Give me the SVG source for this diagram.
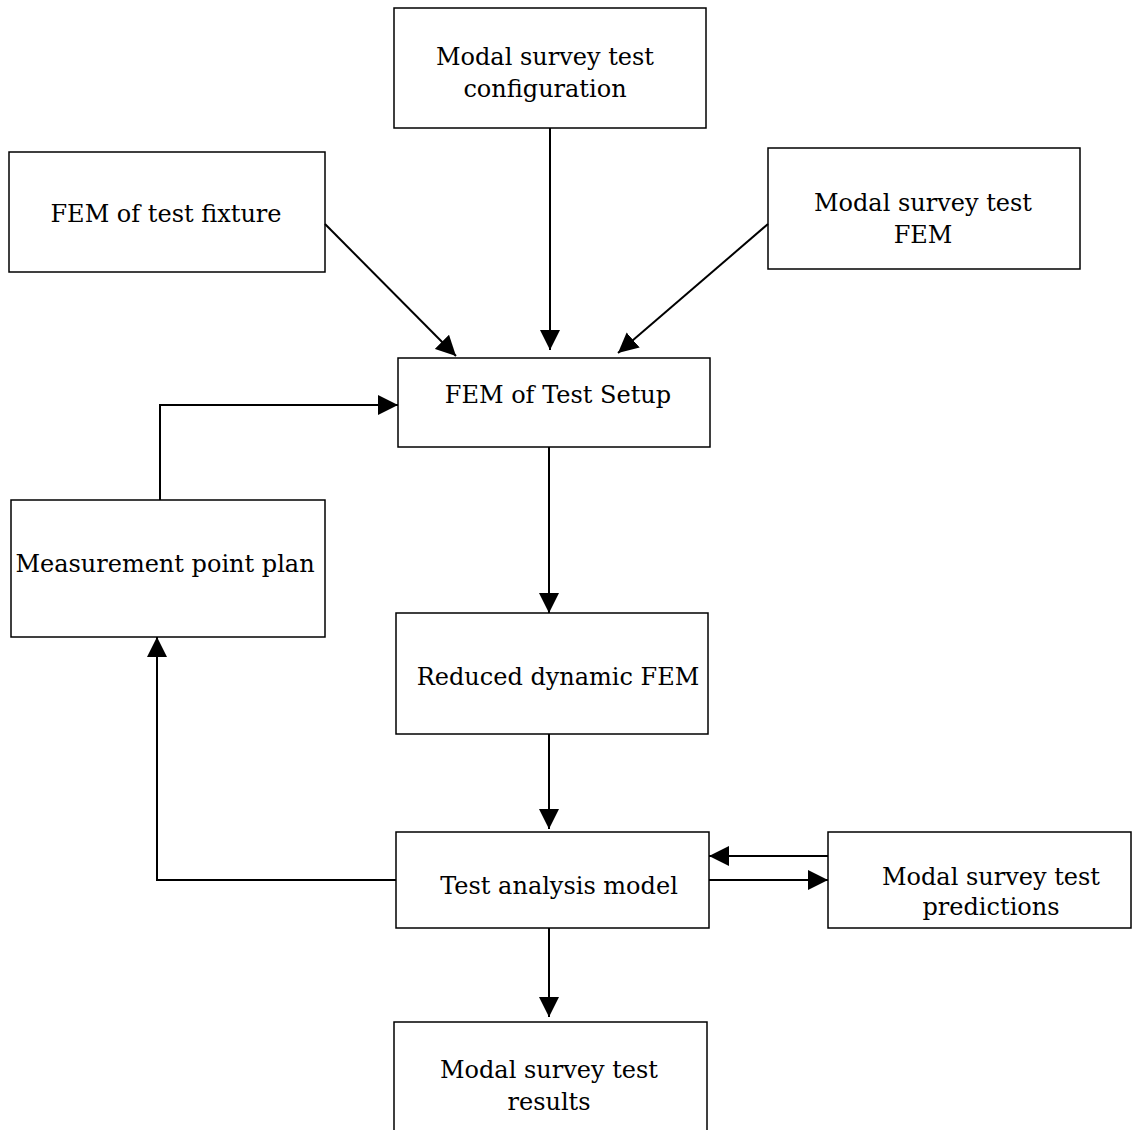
<svg xmlns="http://www.w3.org/2000/svg" width="1133" height="1130" viewBox="0 0 1133 1130">
<style>
.box{fill:#fff;stroke:#000;stroke-width:1.5}
.lbl{font-family:"DejaVu Serif","Liberation Serif",serif;font-size:24px;fill:#000;text-anchor:middle}
.con{fill:none;stroke:#000;stroke-width:2}
</style>
<defs>
<marker id="ah" markerUnits="userSpaceOnUse" markerWidth="20" markerHeight="20" refX="20" refY="10" orient="auto" viewBox="0 0 20 20">
<path d="M0,0 L20,10 L0,20 z" fill="#000"/>
</marker>
</defs>
<rect width="1133" height="1130" fill="#fff"/>
<g id="n-config"><rect class="box" x="394" y="8" width="312" height="120"/><text class="lbl" x="545" y="65">Modal survey test</text><text class="lbl" x="545" y="97">configuration</text></g>
<g id="n-fixture"><rect class="box" x="9" y="152" width="316" height="120"/><text class="lbl" x="166" y="222">FEM of test fixture</text></g>
<g id="n-mstfem"><rect class="box" x="768" y="148" width="312" height="121"/><text class="lbl" x="923" y="211">Modal survey test</text><text class="lbl" x="923" y="243">FEM</text></g>
<g id="n-setup"><rect class="box" x="398" y="358" width="312" height="89"/><text class="lbl" x="558" y="403">FEM of Test Setup</text></g>
<g id="n-measure"><rect class="box" x="11" y="500" width="314" height="137"/><text class="lbl" x="165" y="572">Measurement point plan</text></g>
<g id="n-reduced"><rect class="box" x="396" y="613" width="312" height="121"/><text class="lbl" x="558" y="685">Reduced dynamic FEM</text></g>
<g id="n-tam"><rect class="box" x="396" y="832" width="313" height="96"/><text class="lbl" x="559" y="894">Test analysis model</text></g>
<g id="n-pred"><rect class="box" x="828" y="832" width="303" height="96"/><text class="lbl" x="991" y="885">Modal survey test</text><text class="lbl" x="991" y="915">predictions</text></g>
<g id="n-results"><rect class="box" x="394" y="1022" width="313" height="120"/><text class="lbl" x="549" y="1078">Modal survey test</text><text class="lbl" x="549" y="1110">results</text></g>
<g id="connectors">
<line class="con" x1="550" y1="128" x2="550" y2="350" marker-end="url(#ah)"/>
<line class="con" x1="325" y1="224" x2="456" y2="356" marker-end="url(#ah)"/>
<line class="con" x1="768" y1="224" x2="618" y2="353" marker-end="url(#ah)"/>
<polyline class="con" points="160,500 160,405 398,405" marker-end="url(#ah)"/>
<line class="con" x1="549" y1="447" x2="549" y2="613" marker-end="url(#ah)"/>
<line class="con" x1="549" y1="734" x2="549" y2="829" marker-end="url(#ah)"/>
<polyline class="con" points="396,880 157,880 157,637" marker-end="url(#ah)"/>
<line class="con" x1="828" y1="856" x2="709" y2="856" marker-end="url(#ah)"/>
<line class="con" x1="709" y1="880" x2="828" y2="880" marker-end="url(#ah)"/>
<line class="con" x1="549" y1="928" x2="549" y2="1017" marker-end="url(#ah)"/>
</g>
</svg>
